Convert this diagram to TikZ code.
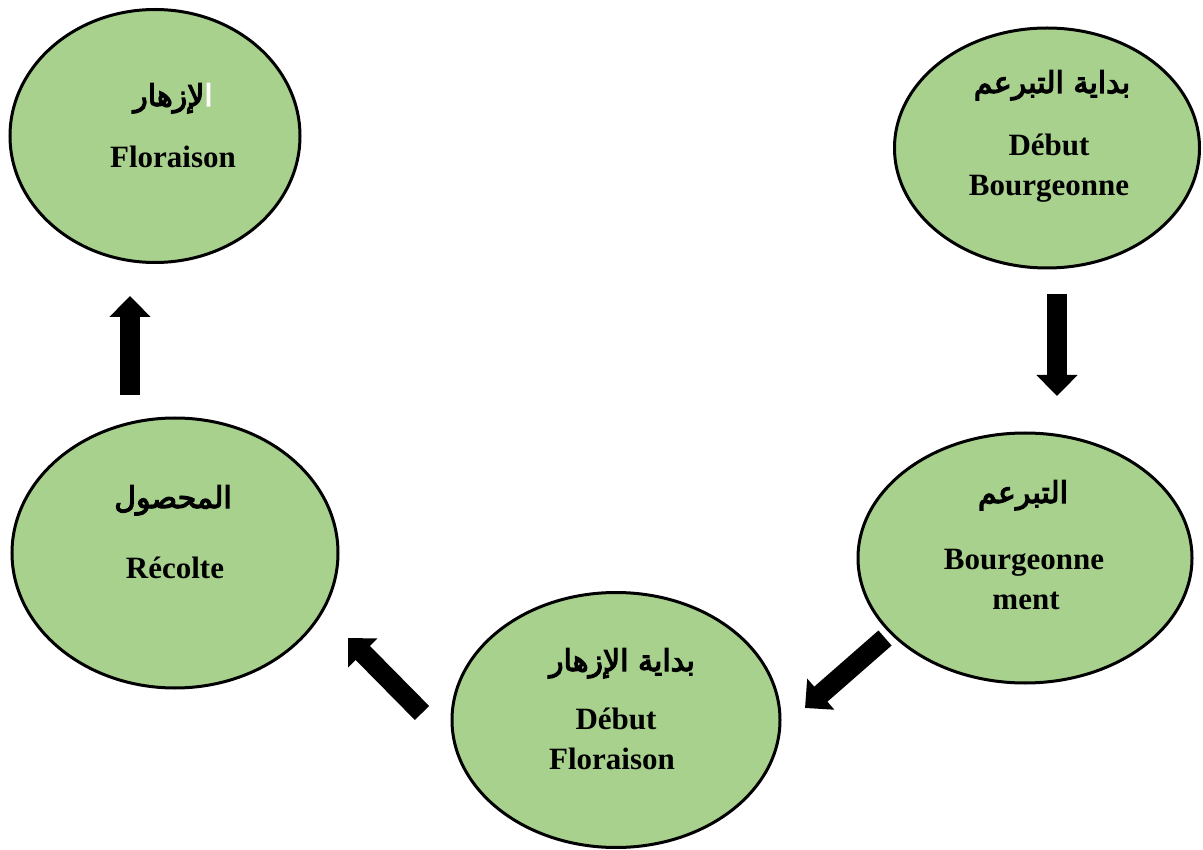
\documentclass[tikz,border=0pt]{standalone}
\usepackage{fontspec}
\setmainfont{Liberation Serif}
\newfontfamily\arabicfont[Script=Arabic,FakeBold=4]{DejaVu Sans}
\TeXXeTstate=1
\usetikzlibrary{arrows.meta,shapes.geometric}
\definecolor{leaf}{HTML}{A9D18E}
\tikzset{
  phase/.style={ellipse, draw=black, line width=3pt, fill=leaf, inner sep=0pt},
  lat/.style={font=\fontsize{31}{31}\selectfont\bfseries, inner sep=0pt, anchor=base},
  arb/.style={font=\arabicfont\fontsize{30}{30}\selectfont, inner sep=0pt, anchor=base},
  blockarrow/.style={line width=20pt, -{Triangle[width=40pt,length=21pt]}, black}
}
\begin{document}
\begin{tikzpicture}[x=1pt,y=-1pt]
\useasboundingbox (0,0) rectangle (1203,850);
% ellipses
\node[phase, minimum width=290pt, minimum height=253pt] (flor) at (155,136) {};
\node[phase, minimum width=305pt, minimum height=240pt] (dbourg) at (1047,148) {};
\node[phase, minimum width=334pt, minimum height=250pt] (bourg) at (1025,558) {};
\node[phase, minimum width=328pt, minimum height=255pt] (dflor) at (616,720) {};
\node[phase, minimum width=326pt, minimum height=270pt] (recol) at (175,553) {};
% texts
\node[arb] (t1a) at (173,106) {\beginR{\color{white}ا}لإزهار\endR};
\node[lat] (t1b) at (173,168) {Floraison};
\node[arb] (t2a) at (1052,93) {\beginR بداية التبرعم\endR};
\node[lat] (t2b) at (1049,156) {Début};
\node[lat] (t2c) at (1049,196) {Bourgeonne};
\node[arb] (t3a) at (1023,503) {\beginR التبرعم\endR};
\node[lat] (t3b) at (1024,569) {Bourgeonne};
\node[lat] (t3c) at (1026,609) {ment};
\node[arb] (t4a) at (622,671) {\beginR بداية الإزهار\endR};
\node[lat] (t4b) at (616,729) {Début};
\node[lat] (t4c) at (612,769) {Floraison};
\node[arb] (t5a) at (173,508) {\beginR المحصول\endR};
\node[lat] (t5b) at (175,578) {Récolte};
% arrows
\coordinate (a1s) at (1057,294); \coordinate (a1e) at (1057,396);
\coordinate (a2s) at (130,395); \coordinate (a2e) at (130,296);
\coordinate (a3s) at (885,638); \coordinate (a3e) at (805,708);
\coordinate (a4s) at (422,713); \coordinate (a4e) at (348,638);
\draw[blockarrow] (a1s) -- (a1e);
\draw[blockarrow] (a2s) -- (a2e);
\draw[blockarrow] (a3s) -- (a3e);
\draw[blockarrow] (a4s) -- (a4e);
\end{tikzpicture}
\end{document}
